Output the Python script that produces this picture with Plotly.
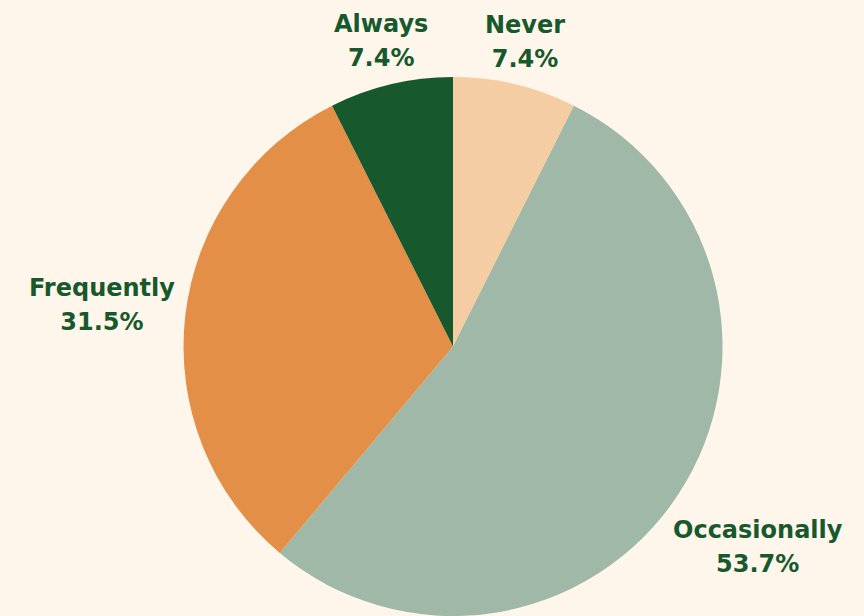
import math
import plotly.graph_objects as go

# Survey response counts by frequency
labels = ["Never", "Occasionally", "Frequently", "Always"]
counts = [4, 29, 17, 4]
colors = ["#F5CDA2", "#A0B8A7", "#E38F48", "#17592D"]

W, H = 864, 616
cx, diam = 453, 539
top_m, bot_m = 77, 0
plot_h = H - top_m - bot_m
cy = top_m + plot_h / 2
radius = diam / 2

glyph_px = 24          # label glyph size
line_px = 26           # sets the line pitch of two-line labels
char_w = 14.1          # rough average advance of the bold face
label_h = 52           # visual height of a two-line label
clearance = 281        # labels sit just outside this circle

fig = go.Figure(
    go.Pie(
        labels=labels,
        values=counts,
        sort=False,
        direction="clockwise",
        rotation=0,
        marker=dict(colors=colors, line=dict(width=0)),
        textinfo="none",
        hoverinfo="label+percent",
        showlegend=False,
        domain=dict(x=[(cx - diam / 2) / W, (cx + diam / 2) / W], y=[0, 1]),
    )
)


def gap_to_centre(d, s, c, hw, hh):
    bx = abs(d * s) - hw
    by = abs(d * c) - hh
    return math.hypot(max(0.0, bx), max(0.0, by))


# Labels centred on each slice's mid-angle ray, pushed out until clear of the pie
total = sum(counts)
cum = 0
annotations = []
for lab, v in zip(labels, counts):
    frac = v / total
    mid = 2 * math.pi * (cum + frac / 2)
    cum += frac
    s, c = math.sin(mid), math.cos(mid)
    pct = f"{frac * 100:.1f}%"
    hw = max(len(lab), len(pct)) * char_w / 2
    hh = label_h / 2
    d = radius
    while gap_to_centre(d, s, c, hw, hh) < clearance:
        d += 0.5
    px = cx + d * s
    py = cy - d * c
    span = f"<span style='font-size:{glyph_px}px'>"
    annotations.append(
        dict(
            x=px / W,
            y=(H - bot_m - py) / plot_h,
            xref="paper",
            yref="paper",
            xanchor="center",
            yanchor="middle",
            showarrow=False,
            align="center",
            text=f"{span}{lab}</span><br>{span}{pct}</span>",
            font=dict(family="DejaVu Sans", size=line_px, color="#17592D", weight=700),
        )
    )

fig.update_layout(
    width=W,
    height=H,
    margin=dict(l=0, r=0, t=top_m, b=bot_m),
    paper_bgcolor="#FEF6EA",
    plot_bgcolor="#FEF6EA",
    annotations=annotations,
)

fig.write_html("out.html")
